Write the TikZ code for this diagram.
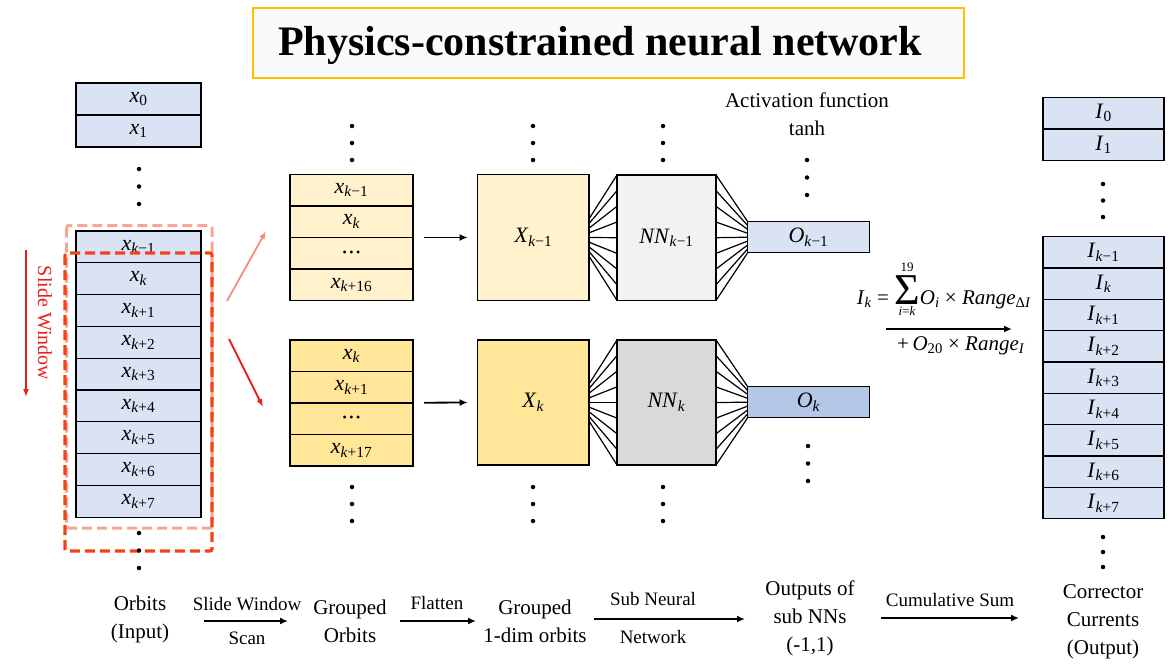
\documentclass[tikz,border=0pt]{standalone}
\usepackage{fontspec}
\setmainfont{LiberationSerif}[Extension=.ttf, UprightFont=*-Regular, BoldFont=*-Bold, ItalicFont=*-Italic, BoldItalicFont=*-BoldItalic]
\usetikzlibrary{arrows.meta,calc}
\definecolor{cellblue}{HTML}{DAE3F3}
\definecolor{oblue}{HTML}{B4C7E7}
\definecolor{ylight}{HTML}{FFF2CC}
\definecolor{ydark}{HTML}{FFE699}
\definecolor{glight}{HTML}{F2F2F2}
\definecolor{gdark}{HTML}{D9D9D9}
\definecolor{gold}{HTML}{FFC000}
\definecolor{titlebg}{HTML}{FAFAFA}
\definecolor{salmon}{RGB}{248,165,145}
\definecolor{redorange}{RGB}{245,65,25}
\definecolor{pinkarrow}{RGB}{245,140,130}
\definecolor{swred}{RGB}{235,30,30}
\newcommand\vsub[2]{\textit{#1}\textsubscript{#2}}
\newcommand\kk{\textit{k}}
\newcommand\threedots{{\fontsize{12}{12}\selectfont •\hspace{2.5pt}•\hspace{2.5pt}•}}
\tikzset{
  box/.style={draw=black, line width=1.3pt, inner sep=0pt, outer sep=0pt},
  var/.style={font=\fontsize{22}{24}\selectfont},
  lab/.style={font=\fontsize{21}{28}\selectfont, align=center, inner sep=0pt},
  small/.style={font=\fontsize{19}{24}\selectfont, inner sep=0pt},
  arr/.style={-{Latex[length=8pt,width=7pt]}, line width=1.8pt},
  fan/.style={line width=1.2pt},
  dotm/.style={circle, fill=black, inner sep=0pt, minimum size=4.5pt},
}
\begin{document}
\begin{tikzpicture}[x=1pt,y=-1pt]
\useasboundingbox (0,0) rectangle (1174,664);
\fill[white] (0,0) rectangle (1174,664);

% title
\node[draw=gold, fill=titlebg, line width=1.6pt, minimum width=711pt, minimum height=70pt, inner sep=0pt] (titlebox) at (608.5,43) {};
\node[font=\bfseries\fontsize{42}{42}\selectfont, inner sep=0pt] (title) at (600,45) {Physics-constrained neural network};

% left column (orbits)
\node[box, fill=cellblue, minimum width=125pt, minimum height=32pt, var] (L0) at (138.5,99) {\vsub{x}{0}};
\node[box, fill=cellblue, minimum width=125pt, minimum height=32pt, var] (L1) at (138.5,131) {\vsub{x}{1}};
\foreach \s [count=\i from 0] in {{\kk−1},{\kk},{\kk+1},{\kk+2},{\kk+3},{\kk+4},{\kk+5},{\kk+6},{\kk+7}}
  \node[box, fill=cellblue, minimum width=125pt, minimum height=31.8pt, var] (LK\i) at ({138.5},{246.9+31.8*\i}) {\vsub{x}{\s}};

% right column (currents)
\node[box, fill=cellblue, minimum width=121pt, minimum height=31.7pt, var] (R0) at (1103.5,113.2) {\vsub{I}{0}};
\node[box, fill=cellblue, minimum width=121pt, minimum height=31.7pt, var] (R1) at (1103.5,144.9) {\vsub{I}{1}};
\foreach \s [count=\i from 0] in {{\kk−1},{\kk},{\kk+1},{\kk+2},{\kk+3},{\kk+4},{\kk+5},{\kk+6},{\kk+7}}
  \node[box, fill=cellblue, minimum width=121pt, minimum height=31.33pt, var] (RK\i) at ({1103.5},{252.4+31.33*\i}) {\vsub{I}{\s}};

% dashed slide windows
\draw[salmon, line width=3pt, dash pattern=on 10pt off 5pt, rounded corners=2pt] (66.7,225.5) rectangle (212,528);
\draw[redorange, line width=3.2pt, dash pattern=on 10pt off 5pt, rounded corners=2pt] (65,253) rectangle (212,551);

% slide window label and arrow
\node[rotate=-90, text=swred, font=\fontsize{20}{20}\selectfont, inner sep=0pt] (sw) at (45,323) {Slide Window};
\coordinate (swA) at (26,250);
\coordinate (swB) at (26,397);
\draw[swred, -{Latex[length=8pt,width=6pt]}, line width=1.6pt] (swA) -- (swB);

% arrows from orbits to groups
\coordinate (pa1) at (227,301);
\coordinate (pa2) at (266,231);
\coordinate (ra1) at (229,339);
\coordinate (ra2) at (263,407);
\draw[pinkarrow, -{Latex[length=8pt,width=6pt]}, line width=1.8pt] (pa1) -- (pa2);
\draw[swred, -{Latex[length=8pt,width=6pt]}, line width=1.8pt] (ra1) -- (ra2);

% grouped orbits
\foreach \s [count=\i from 0] in {{\vsub{x}{\kk−1}},{\vsub{x}{\kk}},{\threedots},{\vsub{x}{\kk+16}}}
  \node[box, fill=ylight, minimum width=123pt, minimum height=31.6pt, var] (GA\i) at ({351.5},{190.1+31.6*\i}) {\s};
\foreach \s [count=\i from 0] in {{\vsub{x}{\kk}},{\vsub{x}{\kk+1}},{\threedots},{\vsub{x}{\kk+17}}}
  \node[box, fill=ydark, minimum width=123pt, minimum height=31.5pt, var] (GB\i) at ({351.5},{355.75+31.5*\i}) {\s};

% flattened
\node[box, fill=ylight, minimum width=111.3pt, minimum height=126pt, var] (Xa) at (533.3,237.5) {\vsub{X}{\kk−1}};
\node[box, fill=ydark, minimum width=111.3pt, minimum height=125pt, var] (Xb) at (533.3,402.5) {\vsub{X}{\kk}};
\coordinate (ga) at (424,237.5);
\coordinate (gb) at (424,402.7);
\draw[arr] (ga) -- ([xshift=-10pt]Xa.west);
\draw[arr] (gb) -- ([xshift=-10pt]Xb.west);

% sub NNs
\node[box, fill=glight, minimum width=99pt, minimum height=125.5pt, var] (NNa) at (666.5,237.7) {\vsub{\textit{NN}}{\kk−1}};
\node[box, fill=gdark, minimum width=99pt, minimum height=125pt, var] (NNb) at (666.5,402.5) {\vsub{\textit{NN}}{\kk}};

% outputs
\node[box, fill=cellblue, minimum width=121.6pt, minimum height=31pt, var] (Oa) at (808.5,237.2) {\vsub{O}{\kk−1}};
\node[box, fill=oblue, minimum width=121.6pt, minimum height=31pt, var] (Ob) at (808.5,402.2) {\vsub{O}{\kk}};

% fans
\foreach \j in {0,...,8} {
  \draw[fan] ($(Xa.north east)!{0.353+0.294*\j/8}!(Xa.south east)$) -- ($(NNa.north west)!{\j/8}!(NNa.south west)$);
  \draw[fan] ($(Xb.north east)!{0.353+0.294*\j/8}!(Xb.south east)$) -- ($(NNb.north west)!{\j/8}!(NNb.south west)$);
  \draw[fan] ($(NNa.north east)!{\j/8}!(NNa.south east)$) -- ($(Oa.north west)!{\j/8}!(Oa.south west)$);
  \draw[fan] ($(NNb.north east)!{\j/8}!(NNb.south east)$) -- ($(Ob.north west)!{\j/8}!(Ob.south west)$);
}

% activation label
\node[lab] (act) at (807,114) {Activation function\\tanh};

% formula
\node[font=\fontsize{21}{22}\selectfont, inner sep=0pt] (f1) at (944,289) {\vsub{I}{\kk} = $\mathop{\mbox{\fontsize{44}{44}\selectfont Σ}}\limits_{\mbox{\raisebox{-2pt}{\fontsize{13}{13}\selectfont\textit{i}=\textit{k}}}}^{\mbox{\raisebox{2pt}{\fontsize{13}{13}\selectfont 19}}}$\vsub{O}{\textit{i}} × \vsub{Range}{Δ\textit{I}}};
\node[font=\fontsize{21}{22}\selectfont, inner sep=0pt] (f2) at (961,346) {+\,\vsub{O}{20} × \vsub{Range}{\textit{I}}};
\coordinate (fa) at (886,329);
\coordinate (fb) at (1012,329);
\draw[arr] (fa) -- (fb);

% dots
\foreach \x/\y/\d [count=\n] in {139/169/17.5, 139/533/17.5, 352/126/17, 533/126/17, 663/126/17, 807/160/17.5, 352/487/17, 533/487/17, 663/487/17, 808/446/17.5, 1103/184/16.5, 1103/537/15}
  \foreach \m in {0,1,2}
    \node[dotm] (dot\n-\m) at ({\x},{\y+\d*\m}) {};

% bottom flow
\node[lab] (orb) at (140,619) {Orbits\\(Input)};
\node[lab] (grp) at (350,621) {Grouped\\Orbits};
\node[lab] (grp1) at (535,621) {Grouped\\1-dim orbits};
\node[lab] (outs) at (810,618) {Outputs of\\sub NNs\\(-1,1)};
\node[lab] (corr) at (1103,622) {Corrector\\Currents\\(Output)};

\coordinate (b1s) at (203.6,621); \coordinate (b1e) at (288,621);
\coordinate (b2s) at (400,621);   \coordinate (b2e) at (476,621);
\coordinate (b3s) at (594,619);   \coordinate (b3e) at (745,619);
\coordinate (b4s) at (881,618);   \coordinate (b4e) at (1019,618);
\draw[arr] (b1s) -- (b1e);
\draw[arr] (b2s) -- (b2e);
\draw[arr] (b3s) -- (b3e);
\draw[arr] (b4s) -- (b4e);
\node[small] (t1a) at (247,604) {Slide Window};
\node[small] (t1b) at (247,638) {Scan};
\node[small] (t2a) at (437,603) {Flatten};
\node[small] (t3a) at (653,599) {Sub Neural};
\node[small] (t3b) at (653,637) {Network};
\node[small] (t4a) at (950,600) {Cumulative Sum};
\end{tikzpicture}
\end{document}
